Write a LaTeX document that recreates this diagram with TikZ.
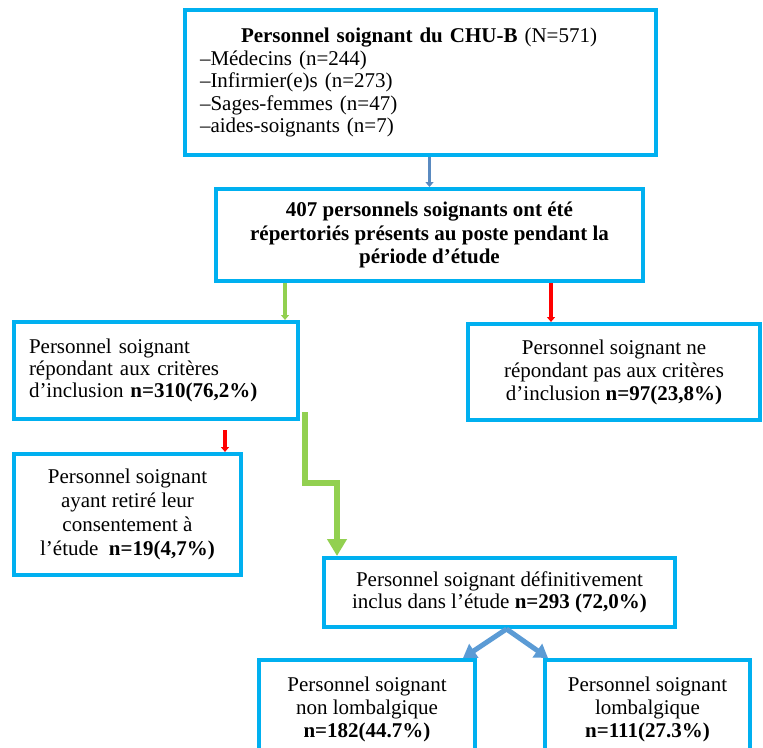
\documentclass[tikz,border=0pt]{standalone}
\usepackage{fontspec}
\setmainfont{Liberation Serif}
\usetikzlibrary{arrows.meta}
\definecolor{boxcyan}{HTML}{00B0F0}
\definecolor{arrgreen}{HTML}{92D050}
\definecolor{arrred}{HTML}{FF0000}
\definecolor{arrsteel}{HTML}{5A8AC0}
\definecolor{arrblue}{HTML}{5B9BD5}
\begin{document}
\begin{tikzpicture}[x=1pt,y=-1pt,
  box/.style={draw=boxcyan, line width=4pt, rectangle, inner sep=0pt,
    font=\fontsize{21}{23}\selectfont, align=center},
  thinarrow/.style={line width=3.5pt, -{Triangle[width=8pt,length=5pt]}},
  fatgreen/.style={draw=arrgreen, line width=6pt, -{Triangle[width=19pt,length=17pt]}},
  fatblue/.style={draw=arrblue, line width=5pt, -{Triangle[width=16pt,length=13pt]}}]
\useasboundingbox (0,0) rectangle (763,747);
\fill[white] (0,0) rectangle (763,747);

\node[box, minimum width=471pt, minimum height=145pt, text width=441pt, align=left, font=\fontsize{21}{22.5}\selectfont] (b1) at (420.5,82.5)
  {\hspace*{41pt}\textbf{Personnel soignant du CHU-B} (N=571)\\
   –Médecins (n=244)\\
   –Infirmier(e)s (n=273)\\
   –Sages-femmes (n=47)\\
   –aides-soignants (n=7)};

\node[box, minimum width=427pt, minimum height=92pt, font=\fontsize{21}{23.5}\selectfont\bfseries] (b2) at (429.5,235)
  {407 personnels soignants ont été\\répertoriés présents au poste pendant la\\période d’étude};

\node[box, minimum width=284pt, minimum height=97pt, text width=254pt, align=left, font=\fontsize{21}{22}\selectfont] (b3) at (156,370.5)
  {Personnel soignant\\répondant aux critères\\d’inclusion \textbf{n=310(76,2\%)}};

\node[box, minimum width=292pt, minimum height=96pt] (b4) at (614,372)
  {Personnel soignant ne\\répondant pas aux critères\\d’inclusion \textbf{n=97(23,8\%)}};

\node[box, minimum width=227pt, minimum height=121pt, font=\fontsize{21}{24}\selectfont] (b5) at (127.5,514.5)
  {Personnel soignant\\ayant retiré leur\\consentement à\\l’étude\ \ \textbf{n=19(4,7\%)}};

\node[box, minimum width=351pt, minimum height=69pt, font=\fontsize{21}{22}\selectfont] (b6) at (499.5,592.5)
  {Personnel soignant définitivement\\inclus dans l’étude \textbf{n=293 (72,0\%)}};

\node[box, minimum width=216pt, minimum height=98pt] (b7) at (367,709)
  {Personnel soignant\\non lombalgique\\\textbf{n=182(44.7\%)}};

\node[box, minimum width=205pt, minimum height=98pt] (b8) at (647.5,709)
  {Personnel soignant\\lombalgique\\\textbf{n=111(27.3\%)}};

% connectors
\draw[thinarrow, arrsteel] (b2.north |- b1.south) -- (b2.north);
\draw[thinarrow, arrgreen] ([xshift=71pt]b2.south west) -- ([xshift=71pt]b2.south west |- b3.north);
\draw[thinarrow, arrred] ([xshift=-94pt]b2.south east) -- ([xshift=-94pt]b2.south east |- b4.north);
\draw[thinarrow, arrred] ([xshift=-18pt,yshift=22pt]b5.north east) -- ([xshift=-18pt]b5.north east);
\draw[fatgreen] ([xshift=5pt,yshift=9pt]b3.south east) -- ++(0,71) -- ++(32,0) -- ([xshift=15pt]b6.north west);
\draw[fatblue] ([xshift=7pt]b6.south) -- ([xshift=-14pt]b7.north east);
\draw[fatblue] ([xshift=7pt]b6.south) -- ([xshift=5pt]b8.north west);
\end{tikzpicture}
\end{document}
